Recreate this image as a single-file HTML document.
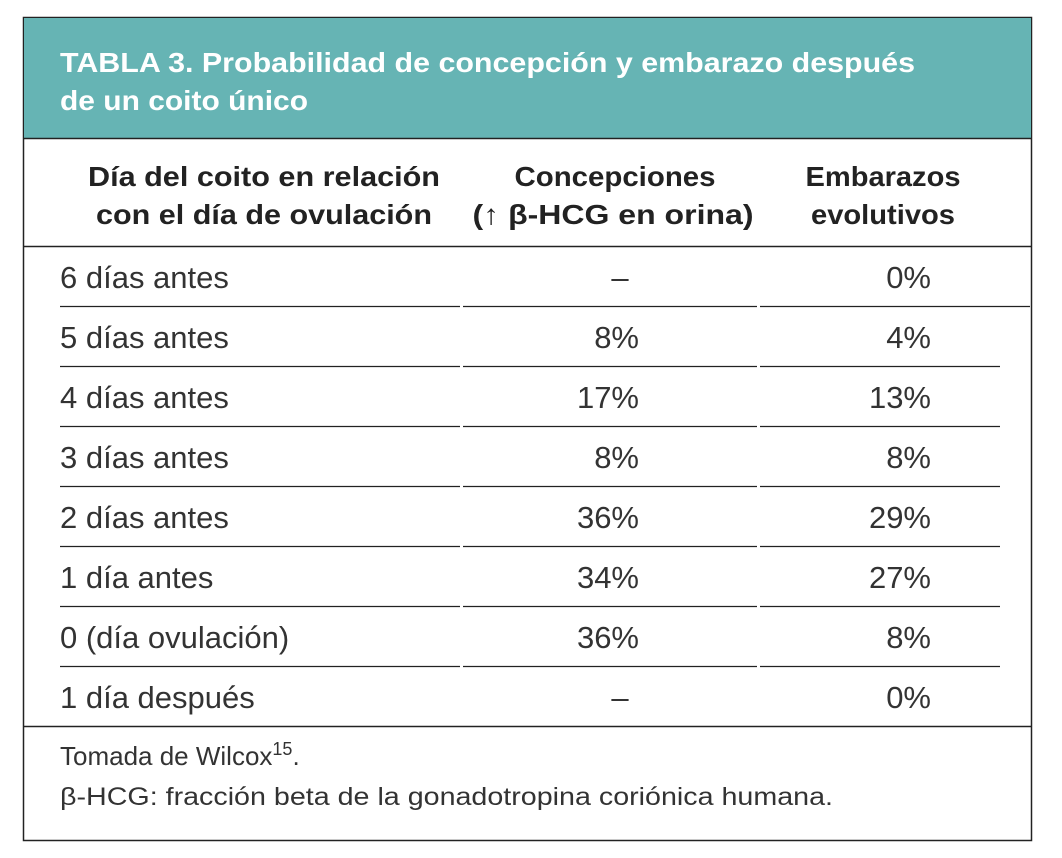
<!DOCTYPE html>
<html><head><meta charset="utf-8"><style>
html,body{margin:0;padding:0;background:#fff;width:1062px;height:858px;overflow:hidden}
svg{display:block}
text{font-family:"Liberation Sans",sans-serif}
</style></head><body>
<svg id="t" width="1062" height="858" xmlns="http://www.w3.org/2000/svg">
<rect x="23.5" y="17.5" width="1008" height="823" fill="#fff" stroke="#222" stroke-width="1.5"/>
<rect x="24" y="18" width="1007" height="120" fill="#66b4b4"/>
<line x1="23" y1="138.5" x2="1032" y2="138.5" stroke="#222" stroke-width="1.5"/>
<text x="60" y="72" font-size="28" font-weight="bold" fill="#fff" textLength="855" lengthAdjust="spacingAndGlyphs">TABLA 3. Probabilidad de concepción y embarazo después</text>
<text x="60" y="110" font-size="28" font-weight="bold" fill="#fff" textLength="248" lengthAdjust="spacingAndGlyphs">de un coito único</text>
<g font-size="28" font-weight="bold" fill="#222" text-anchor="middle">
<text x="264" y="186" textLength="352" lengthAdjust="spacingAndGlyphs">Día del coito en relación</text>
<text x="264" y="224" textLength="336" lengthAdjust="spacingAndGlyphs">con el día de ovulación</text>
<text x="615" y="186" textLength="201" lengthAdjust="spacingAndGlyphs">Concepciones</text>
<text x="613" y="224" textLength="281" lengthAdjust="spacingAndGlyphs">(↑ β-HCG en orina)</text>
<text x="883" y="186" textLength="155" lengthAdjust="spacingAndGlyphs">Embarazos</text>
<text x="883" y="224" textLength="144" lengthAdjust="spacingAndGlyphs">evolutivos</text>
</g>
<line x1="23" y1="246.5" x2="1032" y2="246.5" stroke="#222" stroke-width="1.5"/>
<g id="rows"></g>
<line x1="23" y1="726.5" x2="1032" y2="726.5" stroke="#222" stroke-width="1.5"/>
<text x="60" y="765" font-size="26" fill="#333">Tomada de Wilcox<tspan dy="-10" font-size="18">15</tspan><tspan dy="10">.</tspan></text>
<text x="60" y="805" font-size="25" fill="#333" textLength="773" lengthAdjust="spacingAndGlyphs">β-HCG: fracción beta de la gonadotropina coriónica humana.</text>
</svg>
<script>
const days=["6 días antes","5 días antes","4 días antes","3 días antes","2 días antes","1 día antes","0 (día ovulación)","1 día después"];
const conceptions=["–","8%","17%","8%","36%","34%","36%","–"];
const pregnancies=["0%","4%","13%","8%","29%","27%","8%","0%"];
const NS="http://www.w3.org/2000/svg";
const g=document.getElementById('rows');
const y0=246,rh=60;
function mk(tag,attrs){const e=document.createElementNS(NS,tag);for(const k in attrs)e.setAttribute(k,attrs[k]);g.appendChild(e);return e;}
days.forEach((d,i)=>{
  const base=y0+rh*i+42;
  const t1=mk('text',{x:60,y:base,'font-size':31,fill:'#333'});t1.textContent=d;
  
  
  const c=conceptions[i];
  const t2=mk('text',{x:c==='–'?620:639,y:base,'font-size':31,fill:'#333','text-anchor':c==='–'?'middle':'end'});t2.textContent=c;
  
  
  const t3=mk('text',{x:931,y:base,'font-size':31,fill:'#333','text-anchor':'end'});t3.textContent=pregnancies[i];
  
  
  if(i<days.length-1){
    const ly=y0+rh*(i+1)+0.5;
    [[60,460],[463,757],[760,i===0?1030:1000]].forEach(s=>{
      const l=mk('line',{x1:s[0],x2:s[1],y1:ly,y2:ly,stroke:'#222','stroke-width':1.3});
      
      
    });
  }
});
</script>
</body></html>
